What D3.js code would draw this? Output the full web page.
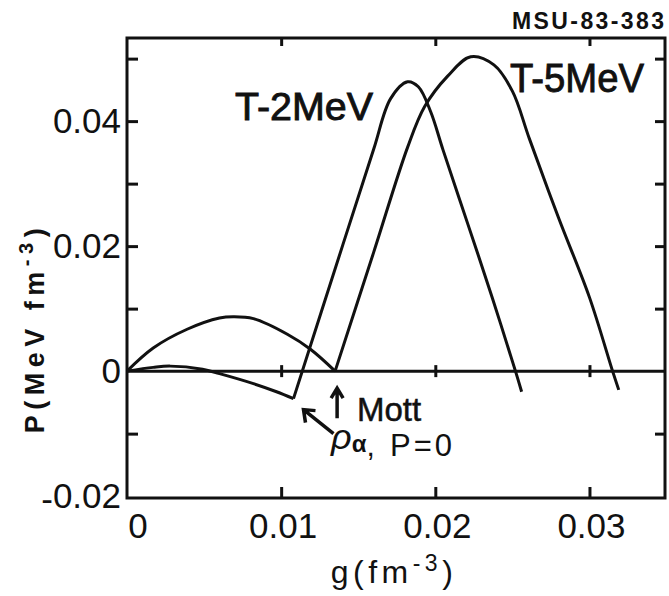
<!DOCTYPE html>
<html lang="en">
<head>
  <meta charset="utf-8">
  <title>P(rho) for T = 2 and 5 MeV</title>
  <script src="https://d3js.org/d3.v7.min.js"></script>
  <style>
    body { margin: 0; background: #fff; }
    #chart text { font-family: "Liberation Sans", Arial, sans-serif; fill: #111; }
  </style>
</head>
<body>
  <div id="chart"></div>

  <script>
    "use strict"

    // density g (fm^-3) and pressure P (MeV fm^-3)
    // T = 5 MeV, bump up to the Mott point
    const t5ArcX = [0, 0.0017, 0.0039, 0.0060, 0.0069, 0.0082, 0.0104, 0.0119, 0.0135];
    const t5ArcP = [0, 0.0037, 0.0067, 0.0085, 0.0087, 0.0084, 0.0059, 0.0035, 0];
    // T = 5 MeV, after the Mott point
    const t5PeakX = [0.0135, 0.0160, 0.0182, 0.0193, 0.0208, 0.0223, 0.0238, 0.0250, 0.0261, 0.0280, 0.0300, 0.0315, 0.0319];
    const t5PeakP = [0, 0.0190, 0.0358, 0.0423, 0.0472, 0.0503, 0.0490, 0.0448, 0.0372, 0.0245, 0.0118, 0, -0.0030];
    // T = 2 MeV, up to the kink (rho_alpha)
    const t2ArcX = [0, 0.0017, 0.0028, 0.0049, 0.0060, 0.0082, 0.0097, 0.0108];
    const t2ArcP = [0, 0.0006, 0.0008, 0.0003, -0.0004, -0.0020, -0.0033, -0.0044];
    // T = 2 MeV, after the kink
    const t2PeakX = [0.0108, 0.0140, 0.0160, 0.0171, 0.0182, 0.0189, 0.0197, 0.0205, 0.0221, 0.0237, 0.0252, 0.0256];
    const t2PeakP = [-0.0044, 0.0202, 0.0355, 0.0436, 0.0463, 0.0455, 0.0415, 0.0354, 0.0236, 0.0117, 0, -0.0033];

    const xTicks = [0, 0.01, 0.02, 0.03];
    const xTickLabels = ["0", "0.01", "0.02", "0.03"];
    const yTicks = [0.04, 0.02, 0, -0.02];
    const yTickLabels = ["0.04", "0.02", "0", "-0.02"];
    const yMarks = [0.05, 0.04, 0.03, 0.02, 0.01, -0.01];   // little ticks on the frame

    const larguraSVG = 669, alturaSVG = 596;

    const svg = d3.select('#chart')
      .append('svg')
        .attr('width', larguraSVG)
        .attr('height', alturaSVG);

    const xMax = 0.0349, yMin = -0.0203, yMax = 0.0533;

    const x = d3.scaleLinear().domain([0, xMax]).range([127, 665]);
    const y = d3.scaleLinear().domain([yMin, yMax]).range([498, 38]);

    /*
     * moldura
     */
    svg.append('rect')
      .attr('x', x(0))
      .attr('y', y(yMax))
      .attr('width', x(xMax) - x(0))
      .attr('height', y(yMin) - y(yMax))
      .attr('fill', 'none')
      .attr('stroke', '#111')
      .attr('stroke-width', 3);

    function limpa(g) {
      g.select('.domain').remove();
      g.selectAll('.tick line').attr('stroke', '#111').attr('stroke-width', 3);
      g.selectAll('.tick text').remove();
    }

    svg.append('g')
      .attr('transform', 'translate(' + x(0) + ',0)')
      .call(d3.axisLeft(y).tickValues(yMarks).tickSize(-11))
      .call(limpa);

    svg.append('g')
      .attr('transform', 'translate(' + x(xMax) + ',0)')
      .call(d3.axisRight(y).tickValues(yMarks).tickSize(-10))
      .call(limpa);

    svg.append('g')
      .attr('transform', 'translate(0,' + y(yMax) + ')')
      .call(d3.axisTop(x).tickValues(xTicks.slice(1)).tickSize(-8))
      .call(limpa);

    svg.append('g')
      .attr('transform', 'translate(0,' + y(yMin) + ')')
      .call(d3.axisBottom(x).tickValues(xTicks.slice(1)).tickSize(-11))
      .call(limpa);

    // linha do zero com ticks que a cruzam
    svg.append('line')
      .attr('x1', x(0)).attr('x2', x(xMax))
      .attr('y1', y(0)).attr('y2', y(0))
      .attr('stroke', '#111')
      .attr('stroke-width', 3);

    svg.append('g')
      .attr('transform', 'translate(0,' + (y(0) - 6) + ')')
      .call(d3.axisBottom(x).tickValues(xTicks.slice(1)).tickSize(12))
      .call(limpa);

    /*
     * rotulos dos ticks
     */
    svg.selectAll('.xlabel')
      .data(xTicks)
      .enter()
        .append('text')
          .attr('class', 'xlabel')
          .attr('x', d => x(d) + (d === 0 ? 11 : 2))
          .attr('y', 538)
          .attr('text-anchor', 'middle')
          .attr('font-size', 35)
          .text((d, i) => xTickLabels[i]);

    const yl = svg.selectAll('.ylabel')
      .data(yTicks)
      .enter()
        .append('text')
          .attr('class', 'ylabel')
          .attr('x', x(0) - 6)
          .attr('y', d => y(d) + 12)
          .attr('text-anchor', 'end')
          .attr('font-size', 35);

    yl.each(function (d, i) {
      const t = d3.select(this);
      const s = yTickLabels[i];
      if (s[0] === '-') {
        // o sinal de menos fica baixo, na linha de base
        t.append('tspan').attr('dy', 3).text('-');
        t.append('tspan').attr('dy', -3).text(s.slice(1));
      } else {
        t.text(s);
      }
    });

    /*
     * curvas
     */
    const linha = d3.line()
      .x(d => x(d[0]))
      .y(d => y(d[1]))
      .curve(d3.curveCatmullRom.alpha(0.5));

    const trechos = [
      d3.zip(t5ArcX, t5ArcP),
      d3.zip(t5PeakX, t5PeakP),
      d3.zip(t2ArcX, t2ArcP),
      d3.zip(t2PeakX, t2PeakP)
    ];

    svg.selectAll('.curva')
      .data(trechos)
      .enter()
        .append('path')
          .attr('class', 'curva')
          .attr('d', linha)
          .attr('fill', 'none')
          .attr('stroke', '#111')
          .attr('stroke-width', 3)
          .attr('stroke-linejoin', 'round');

    /*
     * textos
     */
    svg.append('text')
      .attr('x', 664).attr('y', 29)
      .attr('text-anchor', 'end')
      .attr('font-size', 23)
      .attr('font-weight', 'bold')
      .attr('textLength', 152)
      .attr('lengthAdjust', 'spacing')
      .text('MSU-83-383');

    svg.append('text')
      .attr('x', 235).attr('y', 120)
      .attr('font-size', 39)
      .attr('stroke', '#111')
      .attr('stroke-width', 0.9)
      .attr('textLength', 138)
      .attr('lengthAdjust', 'spacingAndGlyphs')
      .text('T-2MeV');

    svg.append('text')
      .attr('x', 510).attr('y', 92)
      .attr('font-size', 40)
      .attr('stroke', '#111')
      .attr('stroke-width', 0.9)
      .attr('textLength', 134)
      .attr('lengthAdjust', 'spacingAndGlyphs')
      .text('T-5MeV');

    // titulo do eixo y
    const ty = svg.append('text')
      .attr('transform', 'translate(44,328) rotate(-90)')
      .attr('text-anchor', 'middle')
      .attr('font-size', 27)
      .attr('font-weight', 'bold')
      .attr('letter-spacing', 5.5);
    ty.append('tspan').text('P(MeV fm');
    ty.append('tspan').attr('dy', -11).attr('font-size', 20).text('-3');
    ty.append('tspan').attr('dy', 11).text(')');

    // titulo do eixo x
    const tx = svg.append('text')
      .attr('x', 394).attr('y', 583)
      .attr('text-anchor', 'middle')
      .attr('font-size', 32)
      .attr('letter-spacing', 4.5);
    tx.append('tspan').text('g(fm');
    tx.append('tspan').attr('dy', -12).attr('font-size', 23).text('-3');
    tx.append('tspan').attr('dy', 12).text(')');

    /*
     * anotacoes: Mott e rho_alpha
     */
    const mottX = x(t5ArcX[t5ArcX.length - 1]) + 2, mottY = y(0) + 17;
    svg.append('path')
      .attr('d', 'M' + mottX + ',' + (mottY + 30) + 'V' + mottY +
                 'M' + (mottX - 6) + ',' + (mottY + 10) + 'L' + mottX + ',' + mottY + 'L' + (mottX + 6) + ',' + (mottY + 10))
      .attr('fill', 'none')
      .attr('stroke', '#111')
      .attr('stroke-width', 3.5);

    svg.append('text')
      .attr('x', 357).attr('y', 421)
      .attr('font-size', 33)
      .attr('stroke', '#111')
      .attr('stroke-width', 0.5)
      .text('Mott');

    const kx = x(t2ArcX[t2ArcX.length - 1]) + 10, ky = y(t2ArcP[t2ArcP.length - 1]) + 11;
    svg.append('path')
      .attr('d', 'M' + (kx + 30) + ',' + (ky + 24) + 'L' + kx + ',' + ky +
                 'M' + (kx + 2) + ',' + (ky + 13) + 'L' + kx + ',' + ky + 'L' + (kx + 12) + ',' + (ky + 1))
      .attr('fill', 'none')
      .attr('stroke', '#111')
      .attr('stroke-width', 3.5);

    const rho = svg.append('text')
      .attr('x', 331).attr('y', 449);
    rho.append('tspan').attr('font-size', 36).attr('font-style', 'italic').text('ρ');
    rho.append('tspan').attr('dy', 3).attr('font-size', 24).attr('font-weight', 'bold').text('α');
    rho.append('tspan').attr('dy', 4).attr('font-size', 30).text(',');
    rho.append('tspan').attr('x', 390).attr('font-size', 31).attr('letter-spacing', 3).text('P=0');
  </script>
</body>
</html>
